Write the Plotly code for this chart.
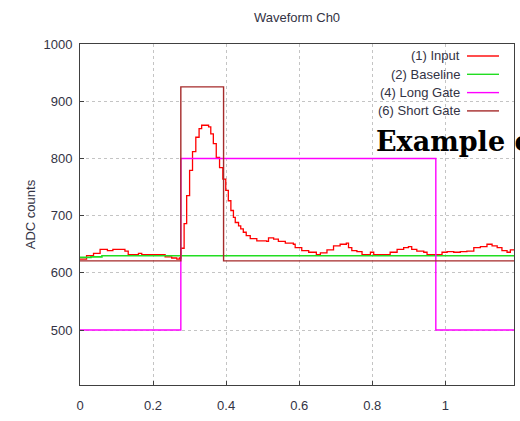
import plotly.graph_objects as go

# ---------------- data ----------------
input_t = [0.000, 0.018, 0.037, 0.055, 0.075, 0.090, 0.123, 0.132, 0.160, 0.169,
           0.228, 0.233, 0.251, 0.265, 0.272, 0.276, 0.285, 0.292, 0.300, 0.308,
           0.317, 0.326, 0.333, 0.352, 0.358, 0.365, 0.373, 0.382, 0.391, 0.399,
           0.406, 0.413, 0.420, 0.425, 0.434, 0.440, 0.447, 0.455, 0.466, 0.484,
           0.511, 0.516, 0.530, 0.543, 0.562, 0.584, 0.589, 0.607, 0.626, 0.647,
           0.658, 0.676, 0.694, 0.712, 0.729, 0.735, 0.744, 0.758, 0.772, 0.795,
           0.804, 0.840, 0.849, 0.868, 0.886, 0.899, 0.908, 0.922, 0.941, 0.950,
           0.986, 0.991, 1.005, 1.023, 1.041, 1.059, 1.078, 1.096, 1.114, 1.128,
           1.142, 1.155, 1.169, 1.178, 1.190]
input_v = [624, 630, 634, 641, 639, 641, 638, 632, 634, 632,
           632, 628, 626, 624, 626, 643, 686, 735, 779, 812,
           837, 852, 858, 855, 843, 826, 802, 784, 764, 744,
           726, 709, 697, 688, 682, 677, 671, 665, 660, 656,
           655, 661, 659, 655, 652, 650, 644, 639, 636, 632,
           635, 640, 647, 650, 652, 644, 639, 637, 632, 636,
           632, 632, 636, 641, 644, 646, 641, 638, 636, 632,
           632, 636, 637, 636, 637, 638, 644, 646, 650, 647,
           644, 639, 636, 640, 640]

baseline_t = [0.000, 0.030, 0.060, 1.190]
baseline_v = [627, 628, 630, 630]

long_gate_t = [0.000, 0.276, 0.974, 1.190]
long_gate_v = [500, 800, 500, 500]

short_gate_t = [0.000, 0.276, 0.393, 1.190]
short_gate_v = [621, 925, 621, 621]

series_names = ["(1) Input", "(2) Baseline", "(4) Long Gate", "(6) Short Gate"]
series_colors = ["#ff0000", "#22dd22", "#ff00ff", "#a52a2a"]

x_ticks = [0, 0.2, 0.4, 0.6, 0.8, 1.0]
x_ticktext = ["0", "0.2", "0.4", "0.6", "0.8", "1"]
y_ticks = [500, 600, 700, 800, 900, 1000]

# ---------------- figure ----------------
TXT = "#333344"
FONT = "Liberation Sans, Arial, sans-serif"

fig = go.Figure()
data = [(input_t, input_v, 1.3), (baseline_t, baseline_v, 1.6),
        (long_gate_t, long_gate_v, 1.4), (short_gate_t, short_gate_v, 1.4)]
for (t, v, w), name, col in zip(data, series_names, series_colors):
    fig.add_trace(go.Scatter(x=t, y=v, mode="lines", name=name,
                             line=dict(color=col, width=w, shape="hv"),
                             showlegend=False))

# custom legend (text right-aligned, sample line on the right)
row_y = [56, 74.3, 92.6, 110.9]
top, bottom, left, right = 44, 385, 80, 514
ph = bottom - top
pw = right - left
for name, col, py in zip(series_names, series_colors, row_y):
    yp = 1 - (py - top) / ph
    fig.add_annotation(x=(462 - left) / pw, y=yp, xref="paper", yref="paper",
                       text=name, showarrow=False, xanchor="right", yanchor="middle",
                       font=dict(family=FONT, size=13, color=TXT))
    fig.add_shape(type="line", xref="paper", yref="paper",
                  x0=(467 - left) / pw, x1=(499 - left) / pw, y0=yp, y1=yp,
                  line=dict(color=col, width=1.4))

fig.add_annotation(x=(374 - left) / pw, y=1 - (141 - top) / ph, xref="paper", yref="paper",
                   text="<b>Example c</b>", showarrow=False, xanchor="left", yanchor="middle",
                   font=dict(family="DejaVu Serif, serif", size=27, color="#000000"))

axis_common = dict(showline=True, mirror=True, linecolor="#404040", linewidth=1,
                   ticks="inside", ticklen=4, tickcolor="#404040",
                   showgrid=True, gridcolor="#c4c4c4", griddash="3px,3px", gridwidth=1,
                   zeroline=False, tickfont=dict(family=FONT, size=13, color=TXT))

fig.update_xaxes(range=[0, 1.188], tickvals=x_ticks, ticktext=x_ticktext,
                 ticklabelstandoff=8, **axis_common)
fig.update_yaxes(range=[404, 1000], tickvals=y_ticks, ticklabelstandoff=4,
                 title=dict(text="ADC counts", standoff=4,
                            font=dict(family=FONT, size=13, color=TXT)),
                 **axis_common)

fig.update_layout(
    width=520, height=421,
    margin=dict(l=left, r=520 - right, t=top, b=421 - bottom),
    paper_bgcolor="white", plot_bgcolor="white",
    title=dict(text="Waveform Ch0", x=0.5, xref="paper", y=1 - 17 / 421, yanchor="middle",
               font=dict(family=FONT, size=13, color=TXT)),
    showlegend=False,
)

fig.write_html("out.html")
